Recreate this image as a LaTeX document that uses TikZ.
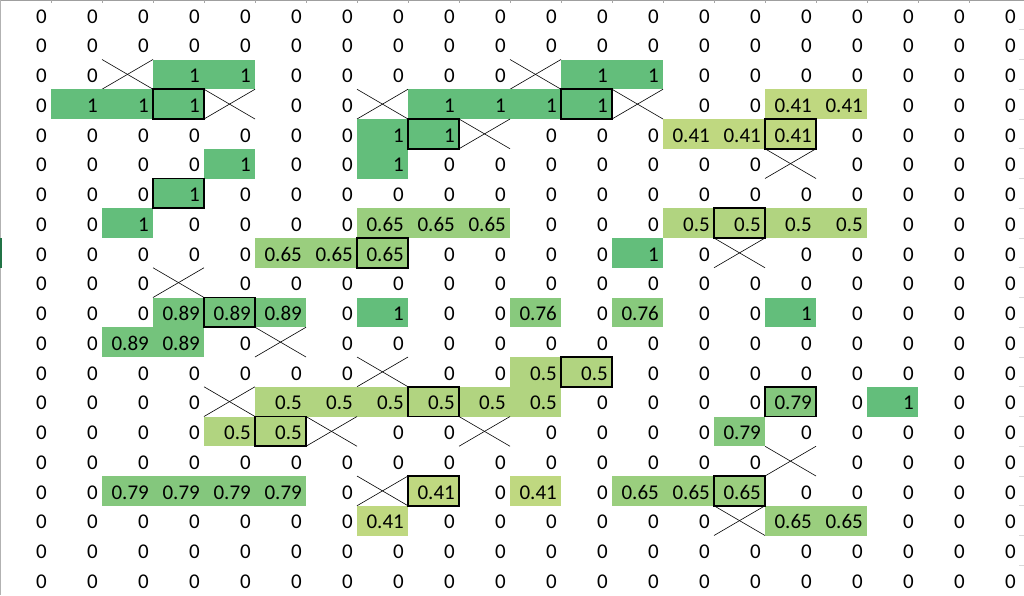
\documentclass[tikz,border=0pt]{standalone}
\usepackage{fontspec}
\setmainfont{Carlito}
\usepackage{tikz}

\tikzset{
  cell/.style={anchor=base east, inner sep=0pt, font=\fontsize{21}{24}\selectfont},
  crossline/.style={black, line width=0.6pt},
  markbox/.style={black, line width=1.8pt},
}

\begin{document}
\begin{tikzpicture}[x=1pt, y=-1pt]

    % Farben der Skala
    \definecolor{cmax}{RGB}{99,190,123}
    \definecolor{cmin}{RGB}{255,235,132}
    \definecolor{rowmark}{RGB}{33,115,70}
    \def\xmark{x}
    \def\zero{0}

    \useasboundingbox (0,0) rectangle (1024,595);

    % Raender
    \draw[gray!75, line width=1pt] (0,0.5) -- (1024,0.5);
    \draw[gray!60, line width=1pt] (0.5,0) -- (0.5,595);
    \draw[rowmark, line width=1.6pt] (0.8,238) -- (0.8,267.75);
    \foreach \k in {1,...,19} \draw[gray!70, line width=0.8pt] (\k*51,0) -- (\k*51,2.5);
    \foreach \k in {1,...,19} \draw[gray!30, line width=0.8pt] (1019,\k*29.75) -- (1024,\k*29.75);

    % Zellen
    \foreach \row [count=\r from 0] in {
      {0,0,0,0,0,0,0,0,0,0,0,0,0,0,0,0,0,0,0,0},
      {0,0,0,0,0,0,0,0,0,0,0,0,0,0,0,0,0,0,0,0},
      {0,0,x,1,1,0,0,0,0,0,x,1,1,0,0,0,0,0,0,0},
      {0,1,1,1,x,0,0,x,1,1,1,1,x,0,0,0.41,0.41,0,0,0},
      {0,0,0,0,0,0,0,1,1,x,0,0,0,0.41,0.41,0.41,0,0,0,0},
      {0,0,0,0,1,0,0,1,0,0,0,0,0,0,0,x,0,0,0,0},
      {0,0,0,1,0,0,0,0,0,0,0,0,0,0,0,0,0,0,0,0},
      {0,0,1,0,0,0,0,0.65,0.65,0.65,0,0,0,0.5,0.5,0.5,0.5,0,0,0},
      {0,0,0,0,0,0.65,0.65,0.65,0,0,0,0,1,0,x,0,0,0,0,0},
      {0,0,0,x,0,0,0,0,0,0,0,0,0,0,0,0,0,0,0,0},
      {0,0,0,0.89,0.89,0.89,0,1,0,0,0.76,0,0.76,0,0,1,0,0,0,0},
      {0,0,0.89,0.89,0,x,0,0,0,0,0,0,0,0,0,0,0,0,0,0},
      {0,0,0,0,0,0,0,x,0,0,0.5,0.5,0,0,0,0,0,0,0,0},
      {0,0,0,0,x,0.5,0.5,0.5,0.5,0.5,0.5,0,0,0,0,0.79,0,1,0,0},
      {0,0,0,0,0.5,0.5,x,0,0,x,0,0,0,0,0.79,0,0,0,0,0},
      {0,0,0,0,0,0,0,0,0,0,0,0,0,0,0,x,0,0,0,0},
      {0,0,0.79,0.79,0.79,0.79,0,x,0.41,0,0.41,0,0.65,0.65,0.65,0,0,0,0,0},
      {0,0,0,0,0,0,0,0.41,0,0,0,0,0,0,x,0.65,0.65,0,0,0},
      {0,0,0,0,0,0,0,0,0,0,0,0,0,0,0,0,0,0,0,0},
      {0,0,0,0,0,0,0,0,0,0,0,0,0,0,0,0,0,0,0,0}}{
      \foreach \v [count=\c from 0] in \row {
        \ifx\v\xmark
          \draw[crossline] (\c*51,\r*29.75) -- ++(51,29.75);
          \draw[crossline] (\c*51,\r*29.75+29.75) -- ++(51,-29.75);
        \else
          \ifx\v\zero\else
            \pgfmathsetmacro\pct{100*\v}
            \fill[cmax!\pct!cmin] (\c*51,\r*29.75) rectangle ++(51,29.75);
          \fi
          \node[cell] (n-\r-\c) at (\c*51+47,\r*29.75+23) {\v};
        \fi
      }
    }

    % Markierte Zellen
    \foreach \r/\c in {3/3,3/11,4/8,4/15,6/3,7/14,8/7,10/4,12/11,13/8,13/15,14/5,16/8,16/14}
      \draw[markbox] (\c*51,\r*29.75) rectangle ++(51,29.75);

\end{tikzpicture}
\end{document}
